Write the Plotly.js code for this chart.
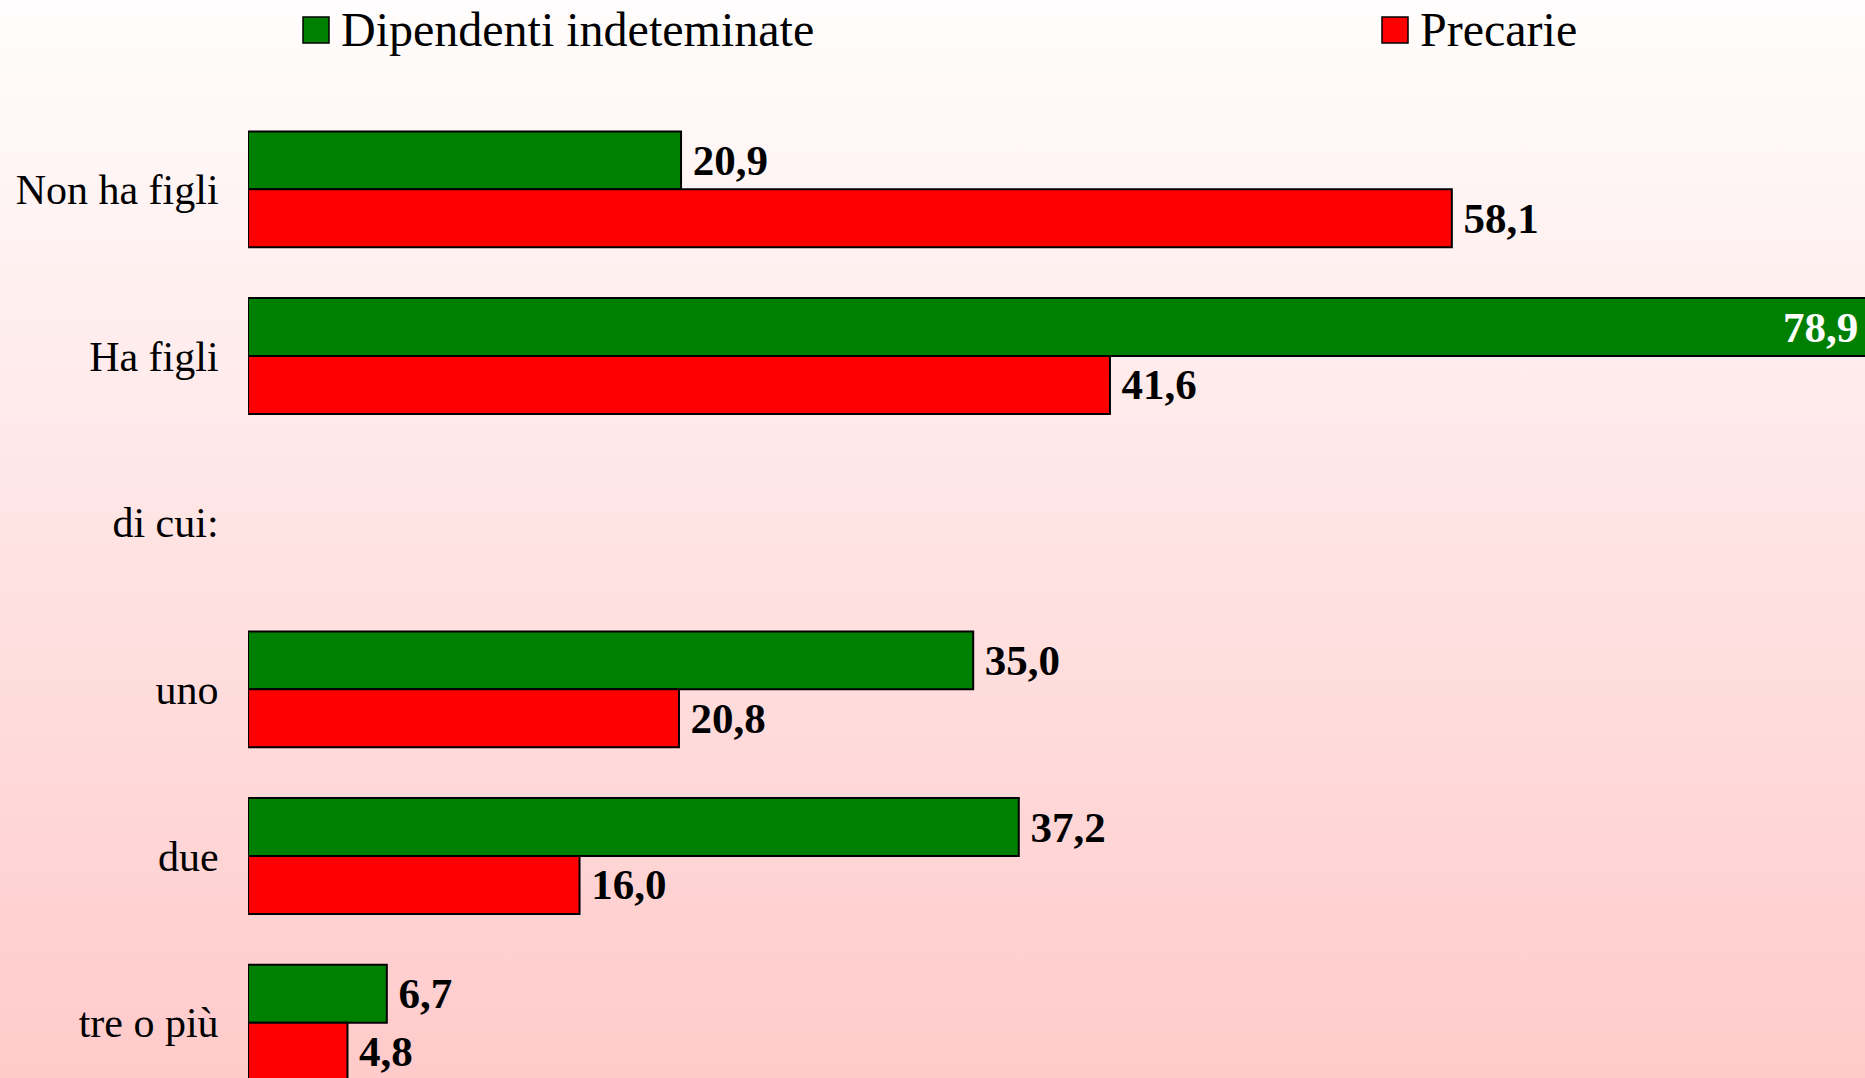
<!DOCTYPE html>
<html>
<head>
<meta charset="utf-8">
<script src="https://cdn.plot.ly/plotly-3.0.1.min.js"></script>
<style>
  html, body { margin: 0; padding: 0; overflow: hidden; width: 1865px; height: 1078px; }
  body { background: linear-gradient(to bottom, #fffdfd 0%, #ffcaca 100%); }
  #chart { width: 1904px; height: 1110px; }
</style>
</head>
<body>
<div id="chart"></div>
<script>
const categories = ["Non ha figli", "Ha figli", "di cui:", "uno", "due", "tre o più"];
const seriesNames = ["Dipendenti indeteminate", "Precarie"];
const indeterminate = [20.9, 78.9, null, 35.0, 37.2, 6.7];
const precarie = [58.1, 41.6, null, 20.8, 16.0, 4.8];
const seriesColors = ["#008000", "#ff0000"];

const W = 1904, H = 1110;
const M = {l: 248, r: 0, t: 106, b: 4};
const pw = W - M.l - M.r, ph = H - M.t - M.b;
const pxX = px => (px - M.l) / pw;
const pxY = py => (H - M.b - py) / ph;

function makeTrace(name, vals, color) {
  const inside = vals.map(v => v !== null && v > 70);
  return {
    type: 'bar', orientation: 'h', name: name,
    y: categories, x: vals,
    marker: {color: color, line: {color: '#000000', width: 2}},
    texttemplate: vals.map((v, i) => v === null ? '' :
      (inside[i] ? '%{x:.1f}\u00a0\u00a0' : '\u2009%{x:.1f}')),
    textposition: inside.map(b => b ? 'inside' : 'outside'),
    insidetextanchor: 'end',
    textfont: {family: 'Liberation Serif', size: 43, color: '#000000', weight: 'bold'},
    outsidetextfont: {family: 'Liberation Serif', size: 43, color: '#000000', weight: 'bold'},
    insidetextfont: {family: 'Liberation Serif', size: 43, color: '#ffffff', weight: 'bold'},
    constraintext: 'none',
    cliponaxis: false,
    hoverinfo: 'x+y'
  };
}

const data = [
  makeTrace(seriesNames[0], indeterminate, seriesColors[0]),
  makeTrace(seriesNames[1], precarie, seriesColors[1])
];

// legend drawn as squares + text
const legendX = [303, 1382];
const shapes = [], annotations = [];
seriesNames.forEach((n, i) => {
  shapes.push({type: 'rect', xref: 'paper', yref: 'paper',
    x0: pxX(legendX[i]), x1: pxX(legendX[i] + 26), y0: pxY(43), y1: pxY(17),
    fillcolor: seriesColors[i], line: {color: '#000000', width: 1.5}});
  annotations.push({xref: 'paper', yref: 'paper', x: pxX(legendX[i] + 36), y: pxY(30),
    xanchor: 'left', yanchor: 'middle', showarrow: false, text: n,
    font: {family: 'Liberation Serif', size: 48, color: '#000000'}});
});

const layout = {
  width: W, height: H,
  margin: M,
  paper_bgcolor: 'rgba(0,0,0,0)', plot_bgcolor: 'rgba(0,0,0,0)',
  separators: ',.',
  barmode: 'group', bargap: 0.305, bargroupgap: 0,
  showlegend: false,
  xaxis: {range: [0, pw / 20.72], visible: false, fixedrange: true},
  yaxis: {type: 'category', range: [5.5, -0.5], showgrid: false, zeroline: false,
    showline: false, ticks: 'outside', ticklen: 20, tickcolor: 'rgba(0,0,0,0)',
    tickfont: {family: 'Liberation Serif', size: 42, color: '#000000'}, fixedrange: true},
  shapes: shapes,
  annotations: annotations
};

Plotly.newPlot('chart', data, layout, {displayModeBar: false, staticPlot: true});
</script>
</body>
</html>
